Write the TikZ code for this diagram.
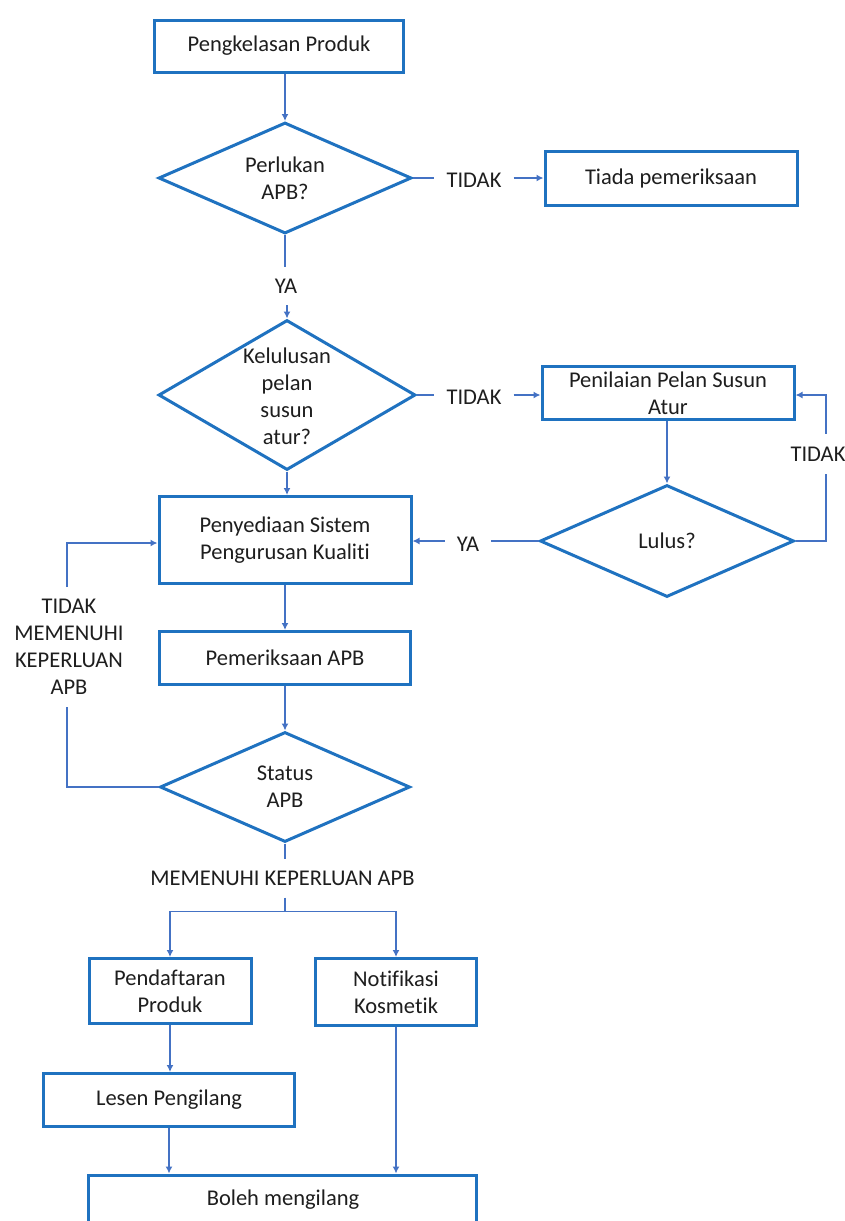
\documentclass[tikz,border=0pt]{standalone}
\usepackage{fontspec}
\setmainfont{Carlito}[Ligatures=NoCommon]
\usetikzlibrary{shapes.geometric,arrows.meta}
\definecolor{boxblue}{HTML}{1F72C0}
\definecolor{lineblue}{HTML}{4472C4}
\definecolor{txt}{HTML}{1E1E1E}
\begin{document}
\begin{tikzpicture}[x=1pt,y=-1pt,
  font=\fontsize{22.5}{27}\selectfont,
  box/.style={draw=boxblue, line width=3pt, fill=white, align=center, inner sep=0pt, text=txt},
  dia/.style={draw=boxblue, line width=3pt, diamond, inner sep=0pt, fill=white},
  dtext/.style={text=txt, align=center, inner sep=0pt},
  lbl/.style={text=txt, align=center, inner sep=12pt},
  conn/.style={draw=lineblue, line width=1.4pt},
  arr/.style={conn, -{Latex[length=7pt,width=7pt]}}]
\clip (0,0) rectangle (845,1221);
% nodes
\node[box, minimum width=249, minimum height=52] (b1) at (279,46) {Pengkelasan Produk};
\node[dia, minimum width=253, minimum height=111] (d1) at (285,178) {};
\node[dtext] (d1t) at (285,178) {Perlukan\\APB?};
\node[box, minimum width=252, minimum height=54] (tiada) at (671,178) {Tiada pemeriksaan};
\node[dia, minimum width=257, minimum height=150] (d2) at (287,395) {};
\node[dtext] (d2t) at (287,396) {Kelulusan\\pelan\\susun\\atur?};
\node[box, minimum width=252, minimum height=53] (pen) at (668,393) {Penilaian Pelan Susun\\Atur};
\node[dia, minimum width=254, minimum height=112] (lulus) at (667,541) {};
\node[dtext] (lulust) at (667,541) {Lulus?};
\node[box, minimum width=252, minimum height=87] (sys) at (285,540) {Penyediaan Sistem\\Pengurusan Kualiti};
\node[box, minimum width=251, minimum height=53] (pem) at (285,658) {Pemeriksaan APB};
\node[dia, minimum width=250, minimum height=110] (d3) at (285,787) {};
\node[dtext] (d3t) at (285,787) {Status\\APB};
\node[box, minimum width=162, minimum height=65] (pendaf) at (170,991) {Pendaftaran\\Produk};
\node[box, minimum width=161, minimum height=67] (notif) at (396,992) {Notifikasi\\Kosmetik};
\node[box, minimum width=251, minimum height=53] (lesen) at (169,1100) {Lesen Pengilang};
\node[box, minimum width=388, minimum height=100, anchor=north] (boleh) at (282.5,1173.5) {};
\node[dtext] (bolehT) at (283,1200) {Boleh mengilang};
% connector labels
\node[lbl] (ya1) at (286,286) {YA};
\node[lbl] (tidak1) at (474,180) {TIDAK};
\node[lbl] (tidak2) at (474,397) {TIDAK};
\node[lbl, inner sep=13pt] (tidak3) at (818,454) {TIDAK};
\node[lbl] (ya2) at (468,544) {YA};
\node[lbl] (tidakm) at (69,647) {TIDAK\\MEMENUHI\\KEPERLUAN\\APB};
\node[lbl] (meme) at (282.5,878) {MEMENUHI KEPERLUAN APB};
\coordinate (r1) at (826,541);
\coordinate (r2) at (826,395);
\coordinate (l1) at (67,787);
\coordinate (l2) at (67,543);
% connectors
\draw[arr] (d1.north |- b1.south) -- (d1.north);
\draw[conn] (d1.east) -- (tidak1.west |- d1.east);
\draw[arr] (tidak1.east |- tiada.west) -- (tiada.west);
\draw[conn] (d1.south) -- (ya1.north -| d1.south);
\draw[arr] (ya1.south -| d2.north) -- (d2.north);
\draw[conn] (d2.east) -- (tidak2.west |- d2.east);
\draw[arr] (tidak2.east |- d2.east) -- (pen.west |- d2.east);
\draw[arr] (lulus.north |- pen.south) -- (lulus.north);
\draw[conn] (lulus.east) -- (r1) -- (r1 |- tidak3.south);
\draw[arr] (r1 |- tidak3.north) -- (r2) -- (pen.east |- r2);
\draw[conn] (lulus.west) -- (ya2.east |- lulus.west);
\draw[arr] (ya2.west |- lulus.west) -- (sys.east |- lulus.west);
\draw[arr] (d2.south) -- (d2.south |- sys.north);
\draw[arr] (sys.south) -- (pem.north);
\draw[arr] (pem.south) -- (d3.north);
\draw[conn] (d3.west) -- (l1) -- (l1 |- tidakm.south);
\draw[arr] (l1 |- tidakm.north) -- (l2) -- (sys.west |- l2);
\draw[conn] (d3.south) -- (d3.south |- meme.north);
\draw[conn] (d3.south |- meme.south) -- ++(0,14) coordinate (split);
\draw[arr] (split) -| (pendaf.north);
\draw[arr] (split) -| (notif.north);
\draw[arr] (pendaf.south) -- (pendaf.south |- lesen.north);
\draw[arr] (lesen.south) -- (lesen.south |- boleh.north);
\draw[arr] (notif.south) -- (notif.south |- boleh.north);
\end{tikzpicture}
\end{document}
